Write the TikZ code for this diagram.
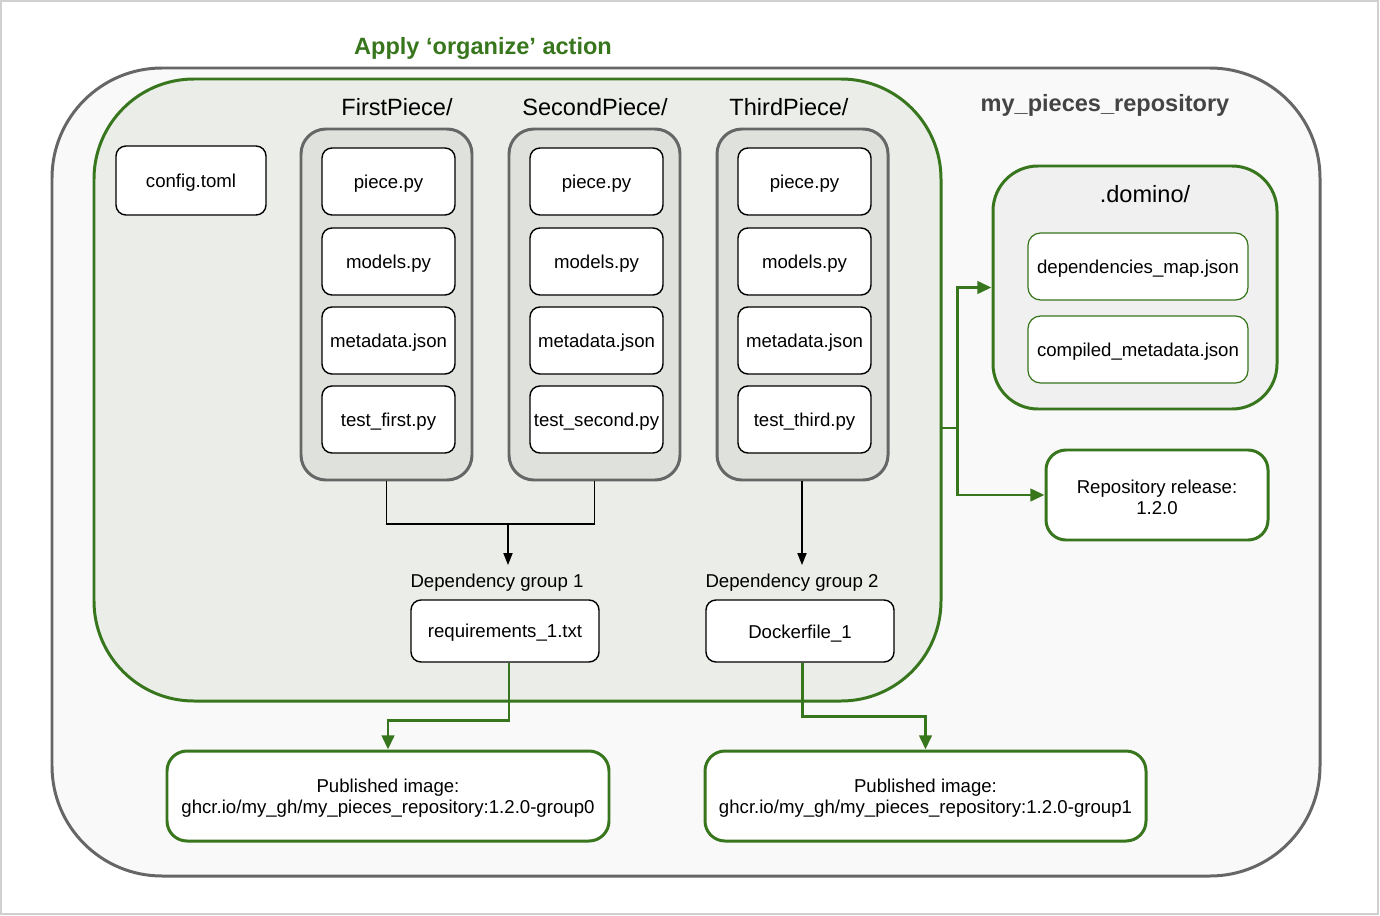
\documentclass[tikz,border=0pt]{standalone}
\usepackage{fontspec}
\setmainfont{Liberation Sans}
\usetikzlibrary{fit,arrows.meta}
\definecolor{grn}{HTML}{38761D}
\definecolor{gstroke}{HTML}{666666}
\definecolor{outerfill}{HTML}{F9F9F9}
\definecolor{orgfill}{HTML}{EBEDE8}
\definecolor{piecefill}{HTML}{DFE2DC}
\definecolor{domfill}{HTML}{F0F0F0}
\definecolor{repotext}{HTML}{444444}
\definecolor{pageborder}{HTML}{D0D0D0}
\begin{document}
\begin{tikzpicture}[x=0.02cm,y=-0.02cm,
  smalltext/.style={font=\fontsize{10.6}{12.2}\selectfont},
  bigtext/.style={font=\fontsize{13.4}{16}\selectfont},
  intext/.style={label={[smalltext, align=center, inner sep=0pt, yshift=-1.2pt]center:{#1}}},
  outerbox/.style={draw=gstroke, line width=1.7pt, fill=outerfill, rounded corners=2.2cm, inner sep=0pt},
  orgbox/.style={draw=grn, line width=1.7pt, fill=orgfill, rounded corners=2cm, inner sep=0pt},
  piecebox/.style={draw=gstroke, line width=1.7pt, fill=piecefill, rounded corners=0.5cm, inner sep=0pt},
  filebox/.style={draw=black, line width=0.8pt, fill=white, rounded corners=0.2cm, inner sep=0pt, intext={#1}},
  gfilebox/.style={draw=grn, line width=0.7pt, fill=white, rounded corners=0.25cm, inner sep=0pt, intext={#1}},
  gbox/.style={draw=grn, line width=1.7pt, fill=white, rounded corners=0.4cm, inner sep=0pt, intext={#1}},
  domobox/.style={draw=grn, line width=1.7pt, fill=domfill, rounded corners=0.9cm, inner sep=0pt},
  conn/.style={draw=black, line width=0.8pt},
  carrow/.style={conn, -{Triangle[length=6.8pt,width=5.2pt]}},
  gconn/.style={draw=grn, line width=1.7pt},
  garrow/.style={gconn, -{Triangle[length=8pt,width=7pt]}}
]
\useasboundingbox (0,0) rectangle (1380,916);
\draw[pageborder, line width=0.6pt] (1,1) rectangle (1378,914);

% outer repository
\node[outerbox, fit={(52,68) (1320,876)}] (repo) {};
\node[font=\fontsize{13.4}{16}\selectfont\bfseries, text=repotext] (repolbl) at (1105,105) {my\_pieces\_repository};

% organize region
\node[orgbox, fit={(94,79) (941,701)}] (org) {};
\node[font=\fontsize{13.4}{16}\selectfont\bfseries, text=grn] (orglbl) at (483,48) {Apply ‘organize’ action};

\node[filebox={config.toml}, fit={(116,146) (266,215)}] (cfg) {};

% piece folders
\node[piecebox, fit={(301,129) (472,480)}] (fp) {};
\node[piecebox, fit={(509,129) (680,480)}] (sp) {};
\node[piecebox, fit={(717,129) (888,480)}] (tp) {};
\node[bigtext] (fplbl) at (397,107) {FirstPiece/};
\node[bigtext] (splbl) at (595,107) {SecondPiece/};
\node[bigtext] (tplbl) at (789,107) {ThirdPiece/};

\node[filebox={piece.py}, fit={(322,148) (455,215)}] (fa) {};
\node[filebox={models.py}, fit={(322,228) (455,295)}] (fb) {};
\node[filebox={metadata.json}, fit={(322,307) (455,374)}] (fc) {};
\node[filebox={test\_first.py}, fit={(322,386) (455,453)}] (fd) {};

\node[filebox={piece.py}, fit={(530,148) (663,215)}] (sa) {};
\node[filebox={models.py}, fit={(530,228) (663,295)}] (sb) {};
\node[filebox={metadata.json}, fit={(530,307) (663,374)}] (sc) {};
\node[filebox={test\_second.py}, fit={(530,386) (663,453)}] (sd) {};

\node[filebox={piece.py}, fit={(738,148) (871,215)}] (ta) {};
\node[filebox={models.py}, fit={(738,228) (871,295)}] (tb) {};
\node[filebox={metadata.json}, fit={(738,307) (871,374)}] (tc) {};
\node[filebox={test\_third.py}, fit={(738,386) (871,453)}] (td) {};

% dependency groups
\node[smalltext] (dg1) at (497,583) {Dependency group 1};
\node[smalltext] (dg2) at (792,583) {Dependency group 2};
\node[filebox={requirements\_1.txt}, fit={(411,600) (599,662)}] (req) {};
\node[filebox={Dockerfile\_1}, fit={(706,600) (894,662)}] (dock) {};

% black connectors
\coordinate (j1) at (508,524);
\coordinate (j1end) at (508,565);
\coordinate (j2end) at (802,565);
\draw[conn] (fp.south) |- (j1) -| (sp.south);
\draw[carrow] (j1) -- (j1end);
\draw[carrow] (tp.south -| j2end) -- (j2end);

% domino
\node[domobox, fit={(993,166) (1277,409)}] (dom) {};
\node[bigtext] (domlbl) at (1145,194) {.domino/};
\node[gfilebox={dependencies\_map.json}, fit={(1028,233) (1248,300)}] (dmap) {};
\node[gfilebox={compiled\_metadata.json}, fit={(1028,316) (1248,383)}] (cmeta) {};

\node[gbox={Repository release:\\1.2.0}, fit={(1046,450) (1268,540)}] (rel) {};

% published images
\node[gbox={Published image:\\ghcr.io/my\_gh/my\_pieces\_repository:1.2.0-group0}, fit={(167,751) (609,841)}] (pub0) {};
\node[gbox={Published image:\\ghcr.io/my\_gh/my\_pieces\_repository:1.2.0-group1}, fit={(705,751) (1146,841)}] (pub1) {};

% green connectors
\coordinate (o1) at (941,428);
\coordinate (o2) at (957,428);
\draw[gconn] (o1) -- (o2);
\draw[garrow] (o2) |- (dom.west);
\draw[garrow] (o2) |- (rel.west);

\coordinate (r1) at (509,720);
\coordinate (d1) at (802,716);
\draw[garrow] (req.south -| r1) -- (r1) -| (pub0.north);
\draw[garrow] (dock.south -| d1) -- (d1) -| (pub1.north);
\end{tikzpicture}
\end{document}
